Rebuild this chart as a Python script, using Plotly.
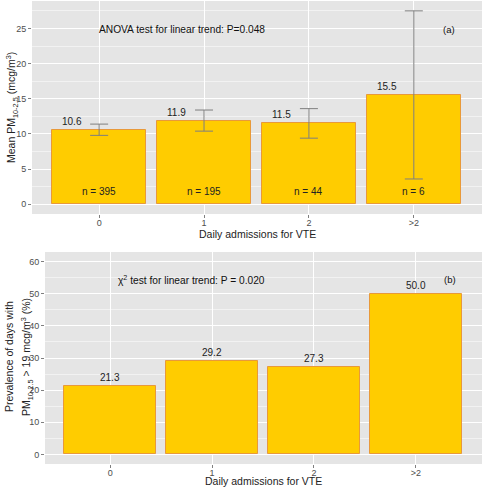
import plotly.graph_objects as go

categories = ["0", "1", "2", ">2"]
mean_pm = [10.6, 11.9, 11.5, 15.5]
ci_upper = [11.4, 13.4, 13.6, 27.5]
ci_lower = [9.8, 10.4, 9.4, 3.6]
n_days = [395, 195, 44, 6]
prevalence = [21.3, 29.2, 27.3, 50.0]

xpos = list(range(len(categories)))
FONT = "Liberation Sans, Arial, sans-serif"
FILL = "#FFCC00"
EDGE = "#E8993A"
BG = "#E5E5E5"

fig = go.Figure()

# Panel (a)
fig.add_trace(go.Bar(
    x=xpos, y=mean_pm, width=0.9,
    marker=dict(color=FILL, line=dict(color=EDGE, width=1)),
    error_y=dict(type="data", symmetric=False,
                 array=[u - m for u, m in zip(ci_upper, mean_pm)],
                 arrayminus=[m - l for m, l in zip(mean_pm, ci_lower)],
                 color="#7F7F7F", thickness=1, width=9),
    xaxis="x", yaxis="y", showlegend=False, hoverinfo="skip"))

# Panel (b)
fig.add_trace(go.Bar(
    x=xpos, y=prevalence, width=0.9,
    marker=dict(color=FILL, line=dict(color=EDGE, width=1)),
    xaxis="x2", yaxis="y2", showlegend=False, hoverinfo="skip"))

ann = []
tfont = dict(family=FONT, size=10, color="#222222")
for i, (m, n) in enumerate(zip(mean_pm, n_days)):
    ann.append(dict(x=i - 0.26, y=m + 1.2, xref="x", yref="y", text=f"{m:.1f}",
                    showarrow=False, font=tfont))
    ann.append(dict(x=i, y=1.8, xref="x", yref="y", text=f"n = {n}",
                    showarrow=False, font=tfont))
for i, p in enumerate(prevalence):
    ann.append(dict(x=i, y=p + 2.6, xref="x2", yref="y2", text=f"{p:.1f}",
                    showarrow=False, font=tfont))

ann.append(dict(x=0.79, y=24.8, xref="x", yref="y",
                text="ANOVA test for linear trend: P=0.048",
                showarrow=False, font=dict(family=FONT, size=10.2, color="#111111")))
ann.append(dict(x=3.34, y=24.8, xref="x", yref="y", text="(a)",
                showarrow=False, font=dict(family=FONT, size=9.5, color="#111111")))
ann.append(dict(x=0.8, y=54.3, xref="x2", yref="y2",
                text="χ<sup>2</sup> test for linear trend: P = 0.020",
                showarrow=False, font=dict(family=FONT, size=10.2, color="#111111")))
ann.append(dict(x=3.34, y=54.5, xref="x2", yref="y2", text="(b)",
                showarrow=False, font=dict(family=FONT, size=9.5, color="#111111")))

# axis titles
atfont = dict(family=FONT, size=10.5, color="#222222")
ann.append(dict(x=12 / 484, y=1 - 108 / 491, xref="paper", yref="paper",
                text="Mean PM<sub>10-2.5</sub> (mcg/m<sup>3</sup>)", textangle=-90,
                showarrow=False, font=atfont, xanchor="center", yanchor="middle"))
ann.append(dict(x=9 / 484, y=1 - 357 / 491, xref="paper", yref="paper",
                text="Prevalence of days with",
                textangle=-90, showarrow=False, font=atfont,
                xanchor="center", yanchor="middle"))
ann.append(dict(x=27 / 484, y=1 - 357 / 491, xref="paper", yref="paper",
                text="PM<sub>10-2.5</sub> &gt; 19 mcg/m<sup>3</sup> (%)",
                textangle=-90, showarrow=False, font=atfont,
                xanchor="center", yanchor="middle"))
ann.append(dict(x=(32 + 482) / 2 / 484, y=1 - 234 / 491, xref="paper", yref="paper",
                text="Daily admissions for VTE", showarrow=False, font=atfont,
                xanchor="center", yanchor="middle"))
ann.append(dict(x=(45 + 482) / 2 / 484, y=1 - 480.5 / 491, xref="paper", yref="paper",
                text="Daily admissions for VTE", showarrow=False, font=atfont,
                xanchor="center", yanchor="middle"))

tickfont = dict(family=FONT, size=9, color="#4D4D4D")
common_x = dict(tickvals=xpos, ticktext=categories, range=[-0.64, 3.65],
                showgrid=True, gridcolor="white", gridwidth=1, zeroline=False,
                ticks="outside", ticklen=3, tickcolor="#7F7F7F", tickfont=tickfont,
                showline=False, automargin=False, ticklabelstandoff=-3)
common_y = dict(showgrid=True, gridcolor="white", gridwidth=1, zeroline=False,
                ticks="outside", ticklen=3, tickcolor="#7F7F7F", tickfont=tickfont,
                showline=False, automargin=False)

fig.update_layout(
    width=484, height=491,
    margin=dict(l=0, r=0, t=0, b=0, autoexpand=False),
    paper_bgcolor="white", plot_bgcolor=BG,
    bargap=0,
    xaxis=dict(domain=[32 / 484, 482 / 484], anchor="y", **common_x),
    yaxis=dict(domain=[1 - 214 / 491, 1 - 1 / 491], anchor="x", range=[-1.38, 28.9],
               tickvals=[0, 5, 10, 15, 20, 25],
               minor=dict(tickvals=[2.5, 7.5, 12.5, 17.5, 22.5, 27.5], showgrid=True,
                          gridcolor="#F2F2F2", gridwidth=0.6, ticks=""),
               **common_y),
    xaxis2=dict(domain=[45 / 484, 482 / 484], anchor="y2", **common_x),
    yaxis2=dict(domain=[1 - 464 / 491, 1 - 252 / 491], anchor="x2", range=[-3, 63],
                tickvals=[0, 10, 20, 30, 40, 50, 60],
                minor=dict(tickvals=[5, 15, 25, 35, 45, 55], showgrid=True,
                           gridcolor="#F2F2F2", gridwidth=0.6, ticks=""),
                **common_y),
    annotations=ann,
)

fig.write_html("out.html", config={"displayModeBar": False},
               post_script="document.body.style.margin='0';document.body.style.overflow='hidden';")
